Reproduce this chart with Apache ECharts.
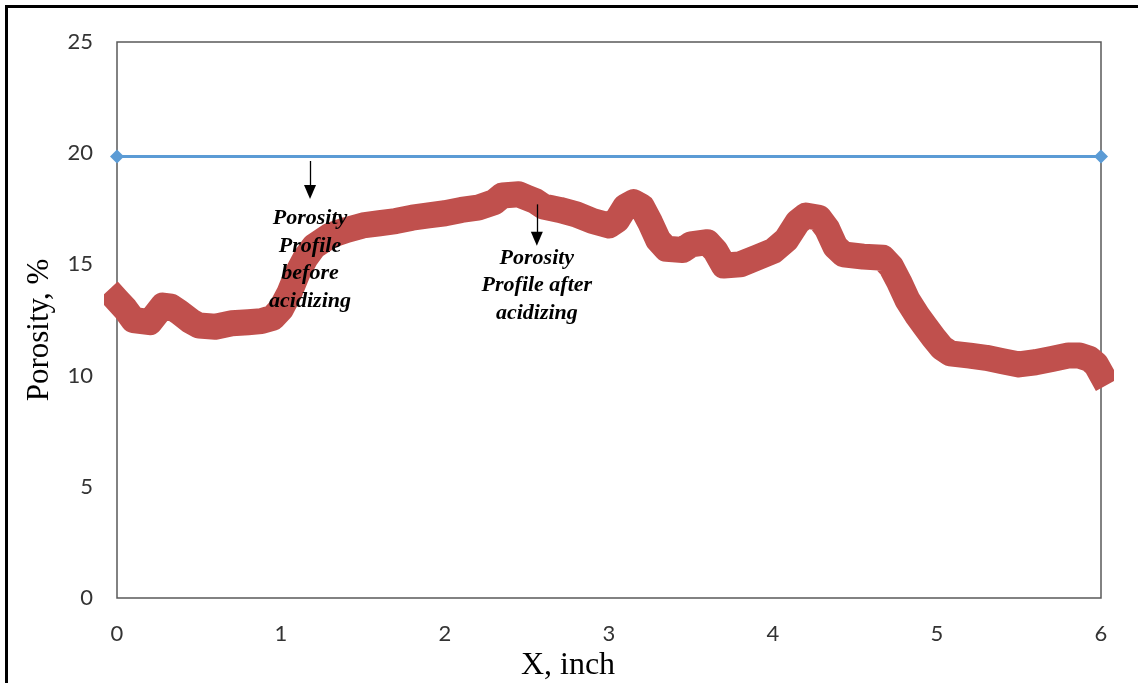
<!DOCTYPE html>
<html>
<head>
<meta charset="utf-8">
<script src="https://cdn.jsdelivr.net/npm/echarts@6/dist/echarts.min.js"></script>
<style>
  html, body { margin: 0; padding: 0; background: #fff; }
  #chart { width: 1138px; height: 683px; }
</style>
</head>
<body>
<div id="chart"></div>
<script>
// Distance along the core, inch
const xAfter = [0, 0.05, 0.1, 0.2, 0.28, 0.33, 0.38, 0.45, 0.5, 0.6, 0.7, 0.8, 0.88, 0.95,
  1.0, 1.05, 1.1, 1.15, 1.2, 1.3, 1.4, 1.5, 1.6, 1.7, 1.8, 1.9, 2.0, 2.1, 2.2, 2.3, 2.35,
  2.45, 2.5, 2.55, 2.6, 2.7, 2.8, 2.9, 3.0, 3.05, 3.1, 3.15, 3.2, 3.25, 3.3, 3.35, 3.45,
  3.5, 3.6, 3.65, 3.7, 3.8, 3.9, 4.0, 4.08, 4.15, 4.2, 4.28, 4.33, 4.38, 4.43, 4.55, 4.67,
  4.72, 4.77, 4.82, 4.88, 4.93, 4.98, 5.03, 5.08, 5.2, 5.3, 5.4, 5.5, 5.6, 5.7, 5.8, 5.87,
  5.93, 5.97, 6.0];
// Porosity profile after acidizing, %
const porosityAfter = [13.4, 13.0, 12.5, 12.4, 13.15, 13.1, 12.85, 12.45, 12.25, 12.2, 12.35, 12.4, 12.45, 12.6,
  13.0, 13.7, 14.6, 15.3, 15.8, 16.3, 16.55, 16.75, 16.85, 16.95, 17.1, 17.2, 17.3, 17.45, 17.55, 17.8, 18.1,
  18.15, 18.0, 17.85, 17.6, 17.45, 17.25, 16.95, 16.75, 17.0, 17.6, 17.8, 17.6, 16.9, 16.1, 15.7, 15.65,
  15.9, 16.0, 15.6, 14.95, 15.0, 15.3, 15.6, 16.1, 16.9, 17.2, 17.1, 16.6, 15.8, 15.45, 15.35, 15.3,
  14.9, 14.2, 13.4, 12.7, 12.2, 11.7, 11.25, 11.0, 10.9, 10.8, 10.65, 10.5, 10.6, 10.75, 10.9, 10.9,
  10.75, 10.5, 10.1];
// Porosity profile before acidizing (uniform), %
const xBefore = [0, 6];
const porosityBefore = [19.85, 19.85];

const xTicks = [0, 1, 2, 3, 4, 5, 6];
const yTicks = [0, 5, 10, 15, 20, 25];

const serif = '"Liberation Serif", "DejaVu Serif", serif';
const sans = 'Lato, "Open Sans", "Liberation Sans", sans-serif';

const chart = echarts.init(document.getElementById('chart'));

chart.setOption({
  animation: false,
  backgroundColor: '#fff',
  grid: {
    left: 117, top: 42, right: 37, bottom: 85,
    outerBoundsMode: 'none', containLabel: false,
    show: true, borderColor: '#595959', borderWidth: 1.5, backgroundColor: 'transparent'
  },
  xAxis: {
    type: 'value',
    min: xTicks[0], max: xTicks[xTicks.length - 1], interval: 1,
    name: 'X, inch', nameLocation: 'middle', nameGap: 43,
    nameTextStyle: { fontFamily: serif, fontSize: 32, color: '#000', padding: [0, 82, 0, 0] },
    axisLine: { show: false }, axisTick: { show: false }, splitLine: { show: false },
    axisLabel: { fontFamily: sans, fontSize: 22, color: '#333', margin: 25 }
  },
  yAxis: {
    type: 'value',
    min: yTicks[0], max: yTicks[yTicks.length - 1], interval: 5,
    name: 'Porosity, %', nameLocation: 'middle', nameGap: 62,
    nameTextStyle: { fontFamily: serif, fontSize: 31, color: '#000', padding: [0, 20, 0, 0] },
    axisLine: { show: false }, axisTick: { show: false }, splitLine: { show: false },
    axisLabel: { fontFamily: sans, fontSize: 22, color: '#333', margin: 24 }
  },
  series: [
    {
      name: 'before',
      type: 'line',
      data: xBefore.map((x, i) => [x, porosityBefore[i]]),
      symbol: 'diamond', symbolSize: 14,
      clip: false,
      itemStyle: { color: '#5B9BD5' },
      lineStyle: { color: '#5B9BD5', width: 3 },
      z: 2
    },
    {
      name: 'after',
      type: 'line',
      data: xAfter.map((x, i) => [x, porosityAfter[i]]),
      showSymbol: false, symbol: 'none',
      clip: false,
      lineStyle: { color: '#C0504D', width: 26, cap: 'square', join: 'round' },
      z: 3,
      markLine: {
        silent: true,
        symbol: ['none', 'triangle'],
        symbolSize: [12, 14],
        label: { show: false },
        lineStyle: { color: '#000', width: 1.3, type: 'solid' },
        data: [
          [{ coord: [1.177, 19.65] }, { coord: [1.177, 18.25] }],
          [{ coord: [2.56, 17.7] }, { coord: [2.56, 16.15] }]
        ]
      }
    }
  ]
});

// Annotation captions, placed in data coordinates
const notes = [
  { at: [1.177, 17.05], lines: ['Porosity', 'Profile', 'before', 'acidizing'] },
  { at: [2.56, 15.28], lines: ['Porosity', 'Profile after', 'acidizing'] }
];
const graphics = [];
notes.forEach(n => {
  const p = chart.convertToPixel({ gridIndex: 0 }, n.at);
  n.lines.forEach((t, i) => {
    graphics.push({
      type: 'text',
      x: p[0], y: p[1] + i * 27.5,
      z: 10,
      style: {
        text: t, fill: '#000',
        font: 'italic bold 22px ' + serif,
        textAlign: 'center', textVerticalAlign: 'middle'
      }
    });
  });
});
// Outer frame
graphics.push({
  type: 'rect', z: 20, silent: true,
  shape: { x: 6.5, y: 6.5, width: 1140, height: 700 },
  style: { fill: 'none', stroke: '#000', lineWidth: 3 }
});
chart.setOption({ graphic: graphics });
</script>
</body>
</html>
